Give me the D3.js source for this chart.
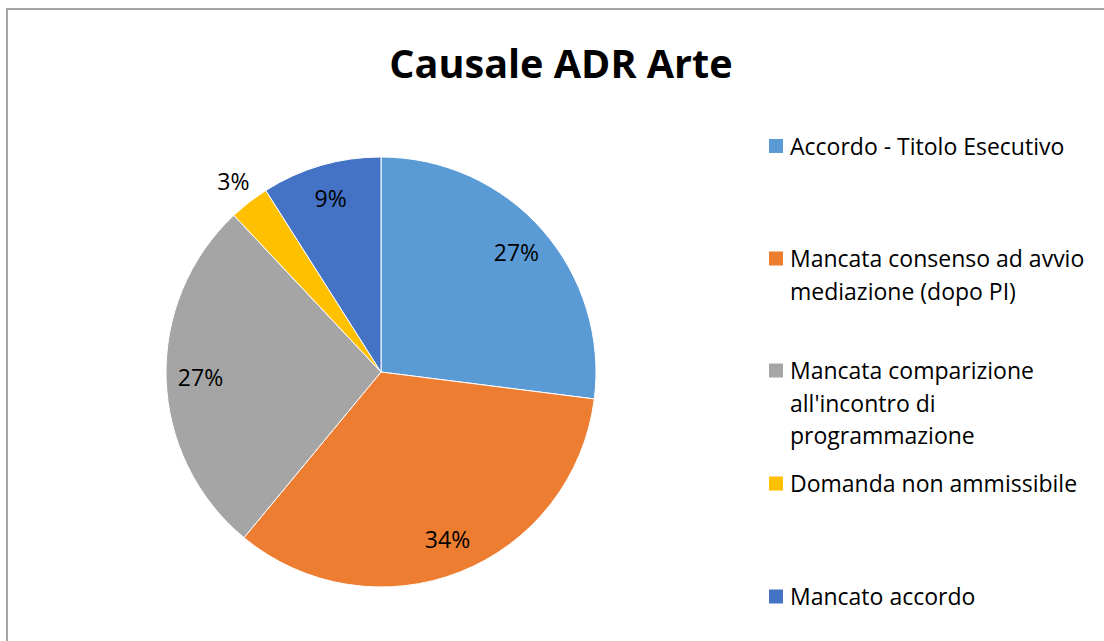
<!DOCTYPE html>
<html><head><meta charset="utf-8">
<script src="https://cdn.jsdelivr.net/npm/d3@7"></script>
<style>html,body{margin:0;padding:0;background:#fff;}svg{display:block;}</style>
</head><body>
<script>
const categories = ["Accordo - Titolo Esecutivo","Mancata consenso ad avvio mediazione (dopo PI)","Mancata comparizione all'incontro di programmazione","Domanda non ammissibile","Mancato accordo"];
const values = [27, 34, 27, 3, 9];
const legendLines = [["Accordo - Titolo Esecutivo"],["Mancata consenso ad avvio","mediazione (dopo PI)"],["Mancata comparizione","all'incontro di","programmazione"],["Domanda non ammissibile"],["Mancato accordo"]];
const colors = ["#5B9BD5","#ED7D31","#A5A5A5","#FFC000","#4472C4"];
const title = "Causale ADR Arte";

const W = 1104, H = 641;
const font = "'Open Sans', sans-serif";
const svg = d3.select("body").append("svg").attr("width", W).attr("height", H);
svg.append("rect").attr("x", 7).attr("y", 9).attr("width", W + 10).attr("height", H + 10)
  .attr("fill", "#fff").attr("stroke", "#A6A6A6").attr("stroke-width", 2);

svg.append("text").attr("x", 561).attr("y", 78).attr("text-anchor", "middle")
  .attr("font-family", font).attr("font-weight", "bold").attr("font-size", 39.6).attr("fill", "#000").text(title);

const cx = 381, cy = 372, r = 215;
const total = d3.sum(values);
const pie = d3.pie().sort(null).value(d => d)(values);
const arc = d3.arc().innerRadius(0).outerRadius(r);
const g = svg.append("g").attr("transform", `translate(${cx},${cy})`);
g.selectAll("path").data(pie).enter().append("path")
  .attr("d", arc).attr("fill", (d, i) => colors[i]).attr("stroke", "#fff").attr("stroke-width", 1);

const labelArc = d3.arc().innerRadius(r * 0.84).outerRadius(r * 0.84);
const outArc = d3.arc().innerRadius(r * 1.12).outerRadius(r * 1.12);
g.selectAll("text.lbl").data(pie).enter().append("text").attr("class", "lbl")
  .attr("transform", (d, i) => {
    const c = (values[i] / total < 0.05 ? outArc : labelArc).centroid(d);
    return `translate(${c[0]},${c[1]})`;
  })
  .attr("text-anchor", "middle").attr("dy", "0.35em")
  .attr("font-family", font).attr("font-size", 23).attr("fill", "#000")
  .text(d => Math.round(d.value / total * 100) + "%");

const legendY = [146.5, 259, 371, 484, 597];
const lg = svg.append("g");
legendLines.forEach((lines, i) => {
  lg.append("rect").attr("x", 769).attr("y", legendY[i] - 7.5).attr("width", 14).attr("height", 14).attr("fill", colors[i]);
  const t = lg.append("text").attr("font-family", font).attr("font-size", 23).attr("fill", "#000");
  lines.forEach((l, j) => {
    t.append("tspan").attr("x", 790).attr("y", legendY[i] + 8 + j * 32.5).text(l);
  });
});
</script>
</body></html>
